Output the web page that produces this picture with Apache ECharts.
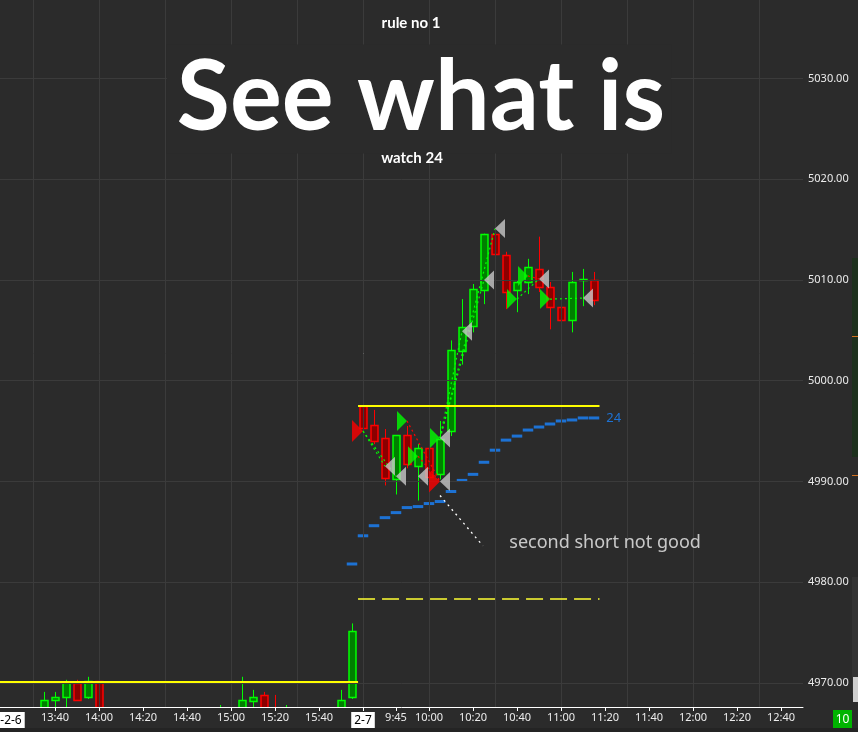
<!DOCTYPE html>
<html>
<head>
<meta charset="utf-8">
<script src="https://cdn.jsdelivr.net/npm/echarts@6/dist/echarts.min.js"></script>
<style>
html,body{margin:0;padding:0;background:#2b2b2b;}
#c{width:858px;height:732px;}
</style>
</head>
<body>
<div id="c"></div>
<script>
// ---------- DATA ----------
// bar time keys: "D HH:MM" (D = 6 -> Feb 6 session, D = 7 -> Feb 7 session), 5-minute bars
const candleTime = ['6 13:35','6 13:40','6 13:45','6 13:50','6 13:55','6 14:00','6 14:55','6 15:05','6 15:10','6 15:15','6 15:20','6 15:25','6 15:50','6 15:55',
  '7 09:30','7 09:35','7 09:40','7 09:45','7 09:50','7 09:55','7 10:00','7 10:05','7 10:10','7 10:15','7 10:20','7 10:25','7 10:30','7 10:35','7 10:40','7 10:45','7 10:50','7 10:55','7 11:00','7 11:05','7 11:10','7 11:15'];
const candleOpen = [4967.5,4968.3,4968.6,4970.0,4968.6,4970.2,4967.0,4967.4,4968.2,4968.8,4967.3,4967.0,4967.4,4968.6,
  4997.5,4995.6,4994.3,4990.2,4994.6,4991.5,4993.3,4990.7,4995.0,5002.9,5005.4,5009.0,5014.6,5012.5,5009.0,5009.8,5011.1,5009.3,5007.3,5006.0,5010.1,5010.0];
const candleClose = [4968.3,4968.6,4970.1,4968.3,4970.2,4967.4,4967.3,4968.3,4968.6,4967.4,4967.0,4967.3,4968.3,4975.1,
  4995.3,4994.0,4990.3,4994.6,4991.7,4993.3,4990.4,4994.2,5003.0,5005.3,5009.1,5014.6,5012.6,5008.8,5009.8,5011.3,5009.3,5007.3,5006.0,5009.8,5010.1,5008.0];
const candleLow = [4967.0,4967.0,4967.4,4968.2,4968.4,4967.0,4966.9,4967.0,4967.4,4967.0,4966.8,4966.9,4967.0,4968.4,
  4995.0,4993.7,4989.6,4988.7,4991.3,4988.1,4989.2,4990.2,4994.5,5001.6,5004.8,5007.6,5010.1,5007.1,5006.8,5008.6,5008.8,5005.1,5004.1,5004.8,5007.4,5007.5];
const candleHigh = [4969.1,4969.1,4970.3,4970.3,4970.6,4970.8,4967.8,4970.6,4969.3,4969.1,4968.8,4967.8,4969.3,4975.9,
  4999.4,4997.1,4995.2,4994.6,4995.5,4993.7,4994.0,4996.0,5004.0,5008.1,5009.6,5014.6,5015.3,5012.8,5010.0,5012.1,5014.3,5009.8,5008.1,5010.8,5011.1,5010.8];

// blue "24" step indicator, one value per bar from 6 15:55 to 7 11:15
const blueStart = '6 15:55';
const blueValues = [4981.8,4984.6,4985.6,4986.4,4986.9,4987.4,4987.5,4987.8,4988.0,4989.0,4990.1,4990.7,4991.9,4993.1,4994.1,4994.5,4995.1,4995.4,4995.7,4996.0,4996.1,4996.3,4996.3];
const blueLabel = '24';

// trade markers [time, price]
const shortEntries = [['7 09:30',4995.0],['7 10:05',4990.0]];
const longEntries = [['7 09:50',4996.0],['7 09:55',4992.5],['7 10:05',4994.3],['7 10:40',5008.1],['7 10:45',5010.4],['7 10:55',5008.1]];
const exitMarks = [['7 09:40',4991.5],['7 09:45',4990.5],['7 09:55',4990.5],['7 10:05',4990.0],['7 10:05',4994.3],['7 10:15',5004.9],['7 10:25',5010.0],['7 10:30',5015.1],['7 10:50',5010.1],['7 11:10',5008.2]];
// trade connection lines [fromTime, fromPrice, toTime, toPrice]
const winLines = [['7 09:30',4995.0,'7 09:40',4991.5],['7 09:30',4995.0,'7 09:45',4990.5],['7 10:05',4994.3,'7 10:15',5004.9],['7 10:05',4994.3,'7 10:25',5010.0],['7 10:05',4994.3,'7 10:30',5015.1],['7 10:40',5008.1,'7 10:50',5010.1],['7 10:55',5008.1,'7 11:10',5008.2]];
const lossLines = [['7 09:50',4996.0,'7 10:05',4990.0],['7 09:55',4992.5,'7 10:05',4990.0],['7 10:45',5010.4,'7 10:50',5010.1]];

// drawn levels, in bar units (0 = 7 09:30 bar) : [x1, x2, price]
const yellowPrevDay = [-33, -0.45, 4970.1];
const yellowToday = [-0.45, 21.5, 4997.5];
const yellowDashed = [-0.45, 21.5, 4978.3];
// annotation pointer line [x1, p1, x2, p2] and note
const notePointer = [7, 4988.6, 10.9, 4983.6];
const noteAnchor = [13.3, 4983.9];
const noteText = 'second short not good';

// axes
const xMinTime = '6 13:15', xMaxTime = '7 12:50';
const xLabelTimes = ['6 13:20','6 13:40','6 14:00','6 14:20','6 14:40','6 15:00','6 15:20','6 15:40','7 09:30','7 09:45','7 10:00','7 10:20','7 10:40','7 11:00','7 11:20','7 11:40','7 12:00','7 12:20','7 12:40'];
const xLabelText  = ['-2-6','13:40','14:00','14:20','14:40','15:00','15:20','15:40','2-7','9:45','10:00','10:20','10:40','11:00','11:20','11:40','12:00','12:20','12:40'];
const xGridTimes = ['6 13:30','6 14:00','6 14:30','6 15:00','6 15:30','7 09:30','7 10:00','7 10:30','7 11:00','7 11:30','7 12:00','7 12:30'];
const yTicks = [4970,4980,4990,5000,5010,5020,5030];
const yMin = 4967.6, yMax = 5037.8;

const titleTop = 'rule no 1', titleMain = 'See what is', titleBottom = 'watch 24';
const badgeText = '10';

// ---------- helpers ----------
function barIdx(t){
  const parts = t.split(' ');
  const hm = parts[1].split(':').map(Number);
  const mins = hm[0]*60 + hm[1];
  return parts[0] === '7' ? (mins - 570)/5 : (mins - 960)/5;
}
const BG = '#2b2b2b';
const GRID = '#3b3b3b';
const BLUE = '#1a84ff';
const FONT = 'Noto Sans';
const labelMap = {};
xLabelTimes.forEach((t,i)=>{ labelMap[barIdx(t)] = xLabelText[i]; });

const candleData = candleTime.map((t,i)=>[barIdx(t), candleOpen[i], candleClose[i], candleLow[i], candleHigh[i]]);
const b0 = barIdx(blueStart);
const blueData = blueValues.map((v,i)=>{
  const item = {value:[b0+i, v]};
  if (i === blueValues.length-1) item.label = {show:true, formatter: blueLabel, position:'right', distance:7, color:BLUE, fontSize:13, fontFamily:FONT};
  return item;
});
const toPts = arr => arr.map(d=>[barIdx(d[0]), d[1]]);
const mkLines = (arr, color) => arr.map(d=>[
  {coord:[barIdx(d[0]), d[1]], lineStyle:{color:color, width:1.2, type:[2,3]}},
  {coord:[barIdx(d[2]), d[3]]}
]);
const segLine = (s, color, type, width) => [
  {coord:[s[0], s[2]], lineStyle:{color:color, width:width, type:type}},
  {coord:[s[1], s[2]]}
];

const chart = echarts.init(document.getElementById('c'));
const option = {
  backgroundColor: BG,
  animation: false,
  grid: {left:0, right:55, top:0, bottom:25, containLabel:false, outerBoundsMode:'none'},
  xAxis: {
    type:'value', min: barIdx(xMinTime), max: barIdx(xMaxTime),
    axisLine:{show:true, onZero:false, lineStyle:{color:'#ffffff', width:1}},
    axisTick:{show:true, customValues: xLabelTimes.slice(1).map(barIdx), length:4, lineStyle:{color:'#ffffff'}},
    axisLabel:{
      customValues: xLabelTimes.map(barIdx), color:'#ececec', fontSize:11, fontFamily:FONT, margin:5,
      formatter: v => {
        const s = labelMap[v];
        if (s === '2-7' || s === '-2-6') return '{d|' + s + '}';
        return s || '';
      },
      rich:{d:{backgroundColor:'#ffffff', color:'#000000', fontSize:12, fontFamily:FONT, padding:[3,3,2,3]}}
    },
    splitLine:{show:false}
  },
  yAxis: {
    type:'value', position:'right', min:yMin, max:yMax, scale:true,
    axisLine:{show:true, lineStyle:{color:'#ffffff', width:1}},
    axisTick:{show:true, customValues:yTicks, length:3, lineStyle:{color:'#ffffff'}},
    axisLabel:{customValues:yTicks, color:'#ececec', fontSize:11, fontFamily:FONT, margin:5, formatter: v => v.toFixed(2)},
    splitLine:{show:false}
  },
  graphic: [
    {type:'text', x:411, y:23, z:100, style:{text:titleTop, font:'bold 15px Lato', fill:'#ffffff', textAlign:'center', textVerticalAlign:'middle', align:'center', verticalAlign:'middle'}},
    {type:'text', x:419, y:99, z:100, style:{text:titleMain, font:'bold 97px Lato', fill:'#ffffff', textAlign:'center', textVerticalAlign:'middle', align:'center', verticalAlign:'middle', backgroundColor:BG, padding:[8,6,4,10]}},
    {type:'text', x:412, y:158, z:100, style:{text:titleBottom, font:'bold 15px Lato', fill:'#ffffff', textAlign:'center', textVerticalAlign:'middle', align:'center', verticalAlign:'middle'}},
    {type:'rect', left:852, top:258, z:50, shape:{width:6, height:199}, style:{fill:'#1d301d'}},
    {type:'rect', left:852, top:577, z:50, shape:{width:6, height:116}, style:{fill:'#333333'}},
    {type:'rect', left:853, top:677, z:51, shape:{width:5, height:25}, style:{fill:'#cfcfcf'}},
    {type:'rect', left:852, top:336, z:51, shape:{width:6, height:1}, style:{fill:'#d07020'}},
    {type:'rect', left:852, top:475, z:51, shape:{width:6, height:1}, style:{fill:'#d07020'}},
    {type:'rect', left:0, top:728, z:50, shape:{width:858, height:4}, style:{fill:'#242424'}},
    {type:'group', left:833, top:710, z:60, children:[
      {type:'rect', shape:{x:0, y:0, width:19, height:18}, style:{fill:'#00b400'}},
      {type:'text', x:9.5, y:9.5, style:{text:badgeText, font:'12px "Noto Sans"', fill:'#ffffff', textAlign:'center', textVerticalAlign:'middle', align:'center', verticalAlign:'middle'}}
    ]}
  ],
  series: [
    { // grid lines
      type:'line', data:[], z:1, silent:true,
      markLine:{silent:true, symbol:['none','none'], label:{show:false}, animation:false,
        lineStyle:{color:GRID, width:1, type:'solid'},
        data: xGridTimes.map(t=>({xAxis:barIdx(t)})).concat(yTicks.map(v=>({yAxis:v})))
      }
    },
    { // blue indicator steps
      type:'scatter', z:2, symbol:'rect', symbolSize:[10.5,3], itemStyle:{color:BLUE}, data: blueData, silent:true
    },
    { // candles
      type:'custom', z:3, clip:true, silent:true,
      dimensions:['x','open','close','low','high'],
      encode:{x:0, y:[1,2,3,4]},
      data: candleData,
      renderItem: function(params, api){
        const x = api.value(0), o = api.value(1), c = api.value(2), l = api.value(3), h = api.value(4);
        const po = api.coord([x,o]), pc = api.coord([x,c]), pl = api.coord([x,l]), ph = api.coord([x,h]);
        const up = c >= o;
        const stroke = up ? '#00ff00' : '#ff0000';
        const fill = up ? '#008000' : '#8b0000';
        const xc = Math.round(po[0]);
        const top = Math.round(Math.min(po[1], pc[1])), bot = Math.round(Math.max(po[1], pc[1]));
        return {type:'group', children:[
          {type:'line', shape:{x1:xc+0.5, y1:ph[1], x2:xc+0.5, y2:pl[1]}, style:{stroke:stroke, lineWidth:1}},
          {type:'rect', shape:{x:xc-3, y:top+0.5, width:7, height:Math.max(1, bot-top)}, style:{fill:fill, stroke:stroke, lineWidth:1.5}}
        ]};
      },
      markLine:{ // last price label
        silent:true, symbol:['none','none'],
        lineStyle:{opacity:0},
        label:{show:true, position:'end', distance:3, formatter: () => candleClose[candleClose.length-1].toFixed(2), backgroundColor:'#ffffff', color:'#000000', fontSize:11, fontFamily:FONT, padding:[2,2,1,2]},
        data:[{yAxis: candleClose[candleClose.length-1]}]
      }
    },
    { // yellow levels
      type:'line', data:[], z:4, silent:true,
      markLine:{silent:true, symbol:['none','none'], label:{show:false},
        data:[
          segLine(yellowPrevDay, '#ffff00', 'solid', 2),
          segLine(yellowToday, '#ffff00', 'solid', 2),
          segLine(yellowDashed, '#ffff33', [17,7], 1.5)
        ]
      }
    },
    { // trade lines + annotation pointer
      type:'line', data:[], z:5, silent:true,
      markLine:{silent:true, symbol:['none','none'], label:{show:false},
        data: mkLines(winLines, '#00ff00').concat(mkLines(lossLines, '#ff0000')).concat([[
          {coord:[notePointer[0], notePointer[1]], lineStyle:{color:'#ffffff', width:1.3, type:[2,4]}},
          {coord:[notePointer[2], notePointer[3]]}
        ]])
      }
    },
    { // short entries
      type:'scatter', z:6, silent:true, data: toPts(shortEntries),
      symbol:'path://M0,0 L10,10 L0,20 Z', symbolSize:[11,22], symbolOffset:['-50%',0], itemStyle:{color:'#ff0000'}
    },
    { // long entries
      type:'scatter', z:6, silent:true, data: toPts(longEntries),
      symbol:'path://M0,0 L10,10 L0,20 Z', symbolSize:[10,20], symbolOffset:['-50%',0], itemStyle:{color:'#00ff00'}
    },
    { // exits
      type:'scatter', z:7, silent:true, data: toPts(exitMarks),
      symbol:'path://M10,0 L0,10 L10,20 Z', symbolSize:[10,19], symbolOffset:['50%',0], itemStyle:{color:'#c8c8c8'}
    },
    { // note text
      type:'scatter', z:7, silent:true, symbolSize:0, data:[noteAnchor],
      label:{show:true, position:'right', distance:0, formatter: noteText, color:'#f0f0f0', fontSize:18, fontFamily:FONT}
    }
  ]
};
chart.setOption(option);
</script>
</body>
</html>
